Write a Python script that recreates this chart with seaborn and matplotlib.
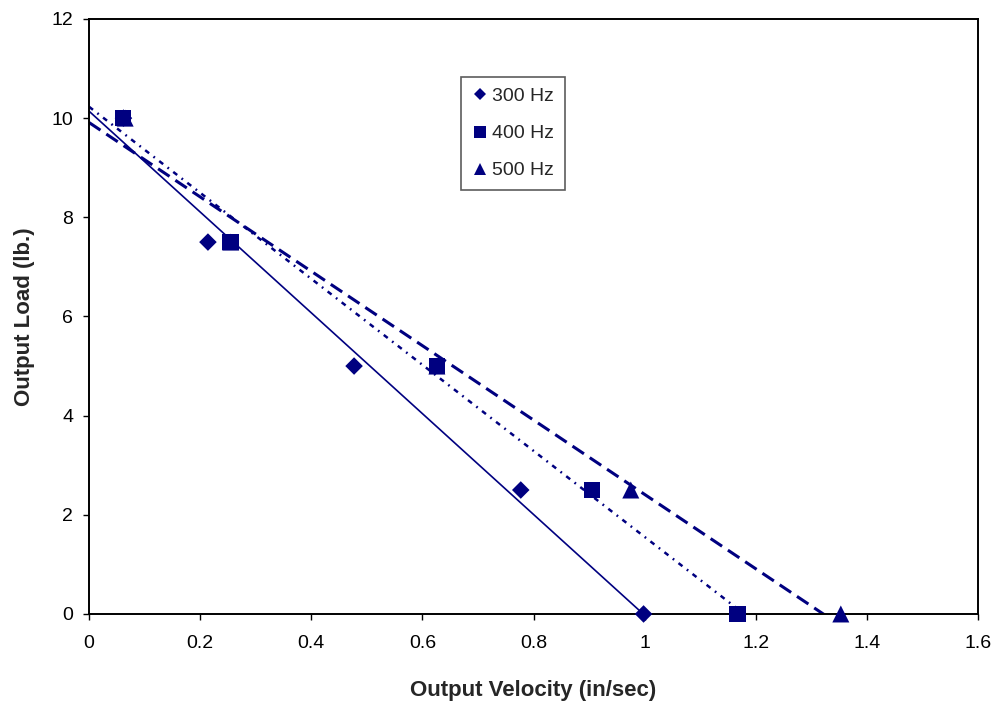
import numpy as np
import pandas as pd
import seaborn as sns
import matplotlib.pyplot as plt

# data
load = [10, 7.5, 5, 2.5, 0]
vel_300 = [0.062, 0.214, 0.477, 0.777, 0.998]
vel_400 = [0.061, 0.255, 0.626, 0.905, 1.167]
vel_500 = [0.065, 0.255, 0.626, 0.975, 1.353]
series = ['300 Hz', '400 Hz', '500 Hz']

navy = '#000080'

df = pd.DataFrame({
    'velocity': vel_300 + vel_400 + vel_500,
    'load': load * 3,
    'series': [s for s in series for _ in load],
})

sns.set_theme(style='white')
plt.rcParams['font.family'] = ['Liberation Sans', 'DejaVu Sans']

fig = plt.figure(figsize=(9.97, 7.02), dpi=100)
ax = fig.add_axes([0.0893, 0.1254, 0.8917, 0.8476])

# linear trend lines, drawn from 0 to the last point
styles = {
    '300 Hz': dict(linestyle='-', linewidth=1.2),
    '400 Hz': dict(linestyle=(0, (2.0, 2.2, 0.7, 2.2)), linewidth=1.8),
    '500 Hz': dict(linestyle=(0, (4.5, 2.3)), linewidth=2.2),
}
for name, grp in df.groupby('series', sort=False):
    slope, icpt = np.polyfit(grp['velocity'], grp['load'], 1)
    xs = np.array([0, grp['velocity'].max()])
    ax.plot(xs, icpt + slope * xs, color=navy, zorder=2, **styles[name])

sns.scatterplot(
    data=df, x='velocity', y='load',
    style='series', hue='series', size='series',
    palette=[navy] * 3,
    markers={'300 Hz': 'D', '400 Hz': 's', '500 Hz': '^'},
    sizes={'300 Hz': 80, '400 Hz': 141, '500 Hz': 150},
    edgecolor=navy, linewidth=0,
    zorder=3, ax=ax, clip_on=False,
)

ax.set_xlim(0, 1.6)
ax.set_ylim(0, 12)
ax.set_xticks(np.arange(0, 1.61, 0.2))
ax.set_xticklabels(['0', '0.2', '0.4', '0.6', '0.8', '1', '1.2', '1.4', '1.6'])
ax.set_yticks(range(0, 13, 2))
ax.tick_params(axis='both', direction='out', length=4.3, width=1, colors='black',
               labelsize=14, bottom=True, left=True)
ax.tick_params(axis='x', pad=11)
ax.tick_params(axis='y', pad=7)
for sp in ax.spines.values():
    sp.set_color('black')
    sp.set_linewidth(1.4)

ax.set_xlabel('Output Velocity (in/sec)', fontsize=16, fontweight='bold', labelpad=20)
ax.set_ylabel('Output Load (lb.)', fontsize=16, fontweight='bold', labelpad=12)

leg = ax.legend(loc='upper left', bbox_to_anchor=(0.4185, 0.9025), borderaxespad=0,
                fontsize=14, frameon=True, fancybox=False, handletextpad=0.25,
                handlelength=0.8, borderpad=0.55, labelspacing=1.0, markerscale=0.7)
leg.get_frame().set_edgecolor('#333333')
leg.get_frame().set_linewidth(1.2)

fig.savefig('out.png', dpi=100)
